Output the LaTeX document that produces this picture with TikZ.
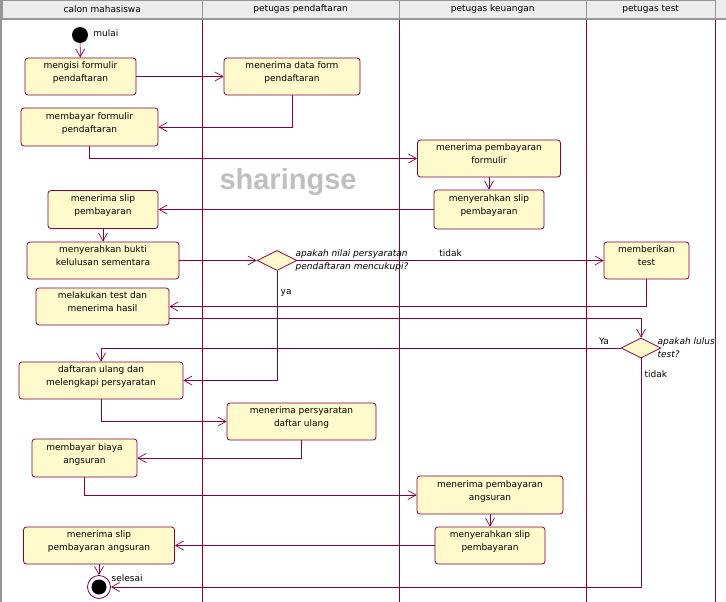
\documentclass[tikz,border=0pt]{standalone}
\usepackage{fontspec}
\setmainfont{DejaVu Sans}
\newfontfamily\wmfont{Liberation Sans}
\usepackage{tikz}
\usetikzlibrary{positioning, arrows.meta, shapes.geometric}

\definecolor{umlline}{RGB}{128,0,64}
\definecolor{umlfill}{RGB}{255,250,204}
\definecolor{hdrfill}{RGB}{236,236,236}
\definecolor{hdrline}{RGB}{150,150,150}

\begin{document}
\begin{tikzpicture}[
  x=1pt, y=-1pt,
  font=\fontsize{9}{13}\selectfont,
  act/.style={rectangle, draw=umlline, line width=0.8pt, rounded corners=3pt, fill=umlfill, minimum height=37pt, align=center, inner sep=1pt, text depth=9pt},
  dec/.style={diamond, draw=umlline, line width=0.8pt, fill=umlfill, minimum width=40pt, minimum height=20pt, inner sep=0pt},
  head/.style={rectangle, draw=hdrline, fill=hdrfill, minimum height=18pt, anchor=north west, inner sep=0pt},
  lane/.style={draw=umlline, line width=0.8pt},
  arr/.style={-{Straight Barb[length=8pt, width=9pt]}, draw=umlline, line width=0.7pt},
  ask/.style={inner sep=0pt, align=left, font=\fontsize{9}{13}\selectfont\itshape}
]
  \useasboundingbox (0,0) rectangle (726,602);
  \fill[white] (0,0) rectangle (726,602);
  \fill[hdrfill] (0,0) rectangle (726,18);
  \node[head, minimum width=200pt] (h1) at (2,0) {calon mahasiswa};
  \node[head, minimum width=197pt] (h2) at (202,0) {petugas pendaftaran};
  \node[head, minimum width=187pt] (h3) at (399,0) {petugas keuangan};
  \node[head, minimum width=129pt] (h4) at (586,0) {petugas test};
  \draw[hdrline, line width=2.5pt] (0,19) -- (726,19);
  \draw[hdrline, line width=2pt] (1,0) -- (1,602);
  \foreach \x in {202,399,586,715}
    \draw[lane] (\x,20.5) -- (\x,602);
  \node[text=black!25, font=\wmfont\bfseries\fontsize{29}{29}\selectfont] (wm) at (288,182) {sharingse};

  \node[circle, fill=black, minimum size=16pt, inner sep=0pt] (start) at (80,35) {};
  \node[right=5pt of start, inner sep=0pt, yshift=2pt] (startlbl) {mulai};
  \node[act, minimum width=111pt] (isi) at (80.5,76.5) {mengisi formulir\\pendaftaran};
  \node[act, minimum width=136pt] (terimaform) at (292,76.5) {menerima data form\\pendaftaran};
  \node[act, minimum width=137pt, minimum height=38pt] (bayarform) at (89.5,127) {membayar formulir\\pendaftaran};
  \node[act, minimum width=143pt] (terimabayar) at (489,158.5) {menerima pembayaran\\formulir};
  \node[act, minimum width=110pt, minimum height=39pt] (serahslip) at (489,209.5) {menyerahkan slip\\pembayaran};
  \node[act, minimum width=110pt, minimum height=38pt] (terimaslip) at (103,209.5) {menerima slip\\pembayaran};
  \node[act, minimum width=152pt] (serahbukti) at (103,260.5) {menyerahkan bukti\\kelulusan sementara};
  \node[dec] (cek) at (277,260.5) {};
  \node[ask, right=-2pt of cek] (cektxt) {apakah nilai persyaratan\\pendaftaran mencukupi?};
  \node[act, minimum width=85pt] (beritest) at (646.5,260.5) {memberikan\\test};
  \node[act, minimum width=133pt] (test) at (102.5,306.5) {melakukan test dan\\menerima hasil};
  \node[dec] (lulus) at (641,348) {};
  \node[ask, right=-4pt of lulus] (lulustxt) {apakah lulus\\test?};
  \node[act, minimum width=164pt] (daftar) at (101,380.5) {daftaran ulang dan\\melengkapi persyaratan};
  \node[act, minimum width=149pt] (terimasyarat) at (301.5,421.5) {menerima persyaratan\\daftar ulang};
  \node[act, minimum width=105pt, minimum height=38pt] (bayarangs) at (84.5,458) {membayar biaya\\angsuran};
  \node[act, minimum width=146pt, minimum height=38pt] (terimaangs) at (490,495) {menerima pembayaran\\angsuran};
  \node[act, minimum width=110pt] (serahslipb) at (490,545.5) {menyerahkan slip\\pembayaran};
  \node[act, minimum width=151pt] (terimaslipb) at (99,545.5) {menerima slip\\pembayaran angsuran};
  \node[circle, draw=umlline, line width=0.8pt, fill=white, minimum size=23pt, inner sep=0pt, path picture={\fill[black] (path picture bounding box.center) circle (7.5pt);}] (selesai) at (99,587) {};
  \node[right=4pt of selesai.north east, inner sep=0pt] (selesailbl) {selesai};

  \draw[arr] (start) to (isi);
  \draw[arr] (isi) to (terimaform);
  \draw[arr] (terimaform.south) |- (bayarform.east);
  \draw[arr] (bayarform.south) |- (terimabayar.west);
  \draw[arr] (terimabayar) to (serahslip);
  \draw[arr] (serahslip) to (terimaslip);
  \draw[arr] (terimaslip) to (serahbukti);
  \draw[arr] (serahbukti) to (cek);
  \draw[arr] (cek) to node[above] {tidak} (beritest);
  \draw[arr] (cek.south) |- node[right, pos=0.1] {ya} (daftar.east);
  \draw[arr] (beritest.south) |- (test.east);
  \draw[arr] ([yshift=-12pt]test.east) -| (lulus.north);
  \draw[arr] (lulus.west) -| node[above, pos=0.016] {Ya} (daftar.north);
  \draw[arr] (lulus.south) |- node[right, pos=0.035] {tidak} (selesai.east);
  \draw[arr] (daftar.south) |- (terimasyarat.west);
  \draw[arr] (terimasyarat.south) |- (bayarangs.east);
  \draw[arr] (bayarangs.south) |- (terimaangs.west);
  \draw[arr] (terimaangs) to (serahslipb);
  \draw[arr] (serahslipb) to (terimaslipb);
  \draw[arr] (terimaslipb) to (selesai);
\end{tikzpicture}
\end{document}
